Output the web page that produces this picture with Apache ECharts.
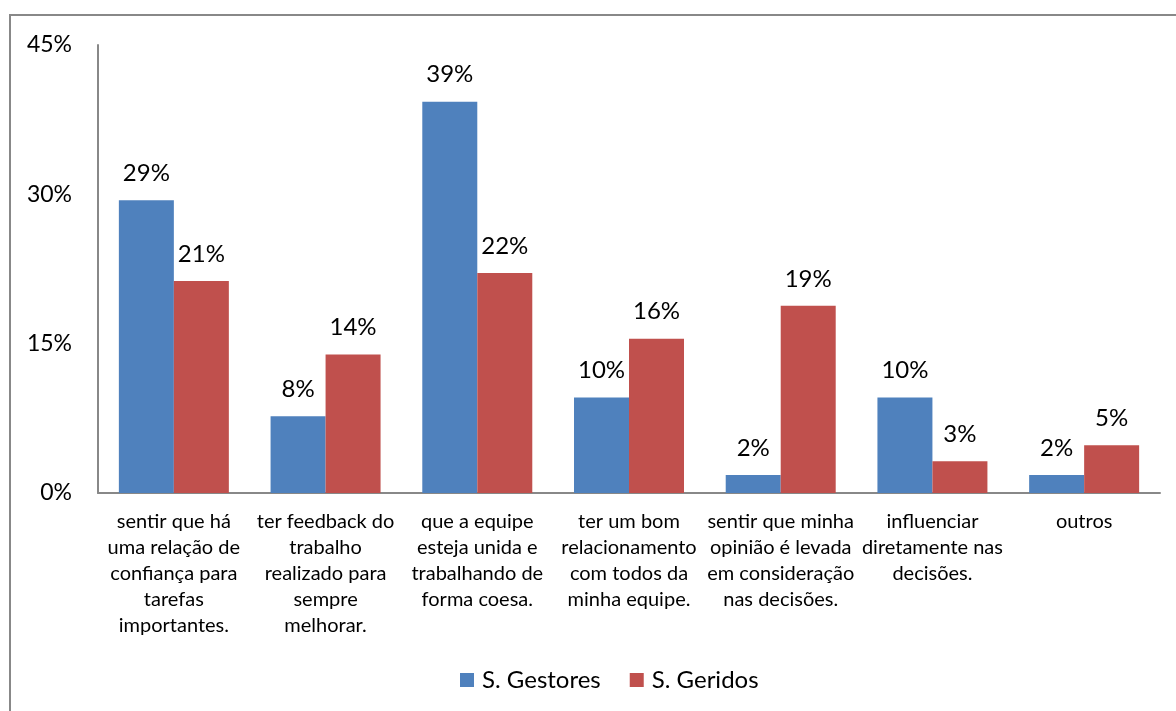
<!DOCTYPE html>
<html>
<head>
<meta charset="utf-8">
<script src="https://cdn.jsdelivr.net/npm/echarts@6/dist/echarts.min.js"></script>
<style>
  html, body { margin: 0; padding: 0; background: #fff; }
  #chart { width: 1176px; height: 711px; }
</style>
</head>
<body>
<div id="chart"></div>
<script>
// Categories (line breaks as they wrap under each group)
const categories = [
  'sentir que há\numa relação de\nconfiança para\ntarefas\nimportantes.',
  'ter feedback do\ntrabalho\nrealizado para\nsempre\nmelhorar.',
  'que a equipe\nesteja unida e\ntrabalhando de\nforma coesa.',
  'ter um bom\nrelacionamento\ncom todos da\nminha equipe.',
  'sentir que minha\nopinião é levada\nem consideração\nnas decisões.',
  'influenciar\ndiretamente nas\ndecisões.',
  'outros'
];

// Percentages per group
const gestores = [29.4, 7.7, 39.3, 9.6, 1.8, 9.6, 1.8];
const geridos = [21.3, 13.9, 22.1, 15.5, 18.8, 3.2, 4.8];

const seriesNames = ['S. Gestores', 'S. Geridos'];
const yTicks = [0, 15, 30, 45];

const font = 'Lato, "Open Sans", sans-serif';
const chart = echarts.init(document.getElementById('chart'));

const pctLabel = {
  show: true,
  position: 'top',
  distance: 15,
  color: '#000',
  fontSize: 24,
  fontFamily: font,
  formatter: p => Math.round(p.value) + '%'
};

chart.setOption({
  animation: false,
  backgroundColor: '#fff',
  graphic: [{
    type: 'rect',
    shape: { x: 10, y: 15, width: 1300, height: 800 },
    style: { fill: 'none', stroke: '#888', lineWidth: 2 },
    silent: true
  }],
  grid: { left: 98, right: 16, top: 45, bottom: 218, containLabel: false },
  legend: {
    data: seriesNames,
    bottom: 14,
    left: 455,
    itemWidth: 14,
    itemHeight: 14,
    itemGap: 29,
    icon: 'rect',
    textStyle: { fontSize: 24, fontFamily: font, color: '#000', padding: [0, 0, 0, 3] }
  },
  xAxis: {
    type: 'category',
    data: categories,
    axisLine: { lineStyle: { color: '#888', width: 2 } },
    axisTick: { show: false },
    axisLabel: {
      interval: 0,
      margin: 16,
      fontSize: 20,
      lineHeight: 26,
      fontFamily: font,
      color: '#000',
      align: 'center'
    }
  },
  yAxis: {
    type: 'value',
    min: yTicks[0],
    max: yTicks[yTicks.length - 1],
    interval: yTicks[1] - yTicks[0],
    axisLine: { show: true, lineStyle: { color: '#888', width: 2 } },
    axisTick: { show: false },
    splitLine: { show: false },
    axisLabel: {
      margin: 26,
      fontSize: 23,
      fontFamily: font,
      color: '#000',
      formatter: v => v + '%'
    }
  },
  series: [
    {
      name: seriesNames[0],
      type: 'bar',
      data: gestores,
      barGap: '0%',
      barCategoryGap: '27.5%',
      itemStyle: { color: '#4F81BD' },
      label: pctLabel
    },
    {
      name: seriesNames[1],
      type: 'bar',
      data: geridos,
      barGap: '0%',
      barCategoryGap: '27.5%',
      itemStyle: { color: '#C0504D' },
      label: pctLabel
    }
  ]
});
</script>
</body>
</html>
